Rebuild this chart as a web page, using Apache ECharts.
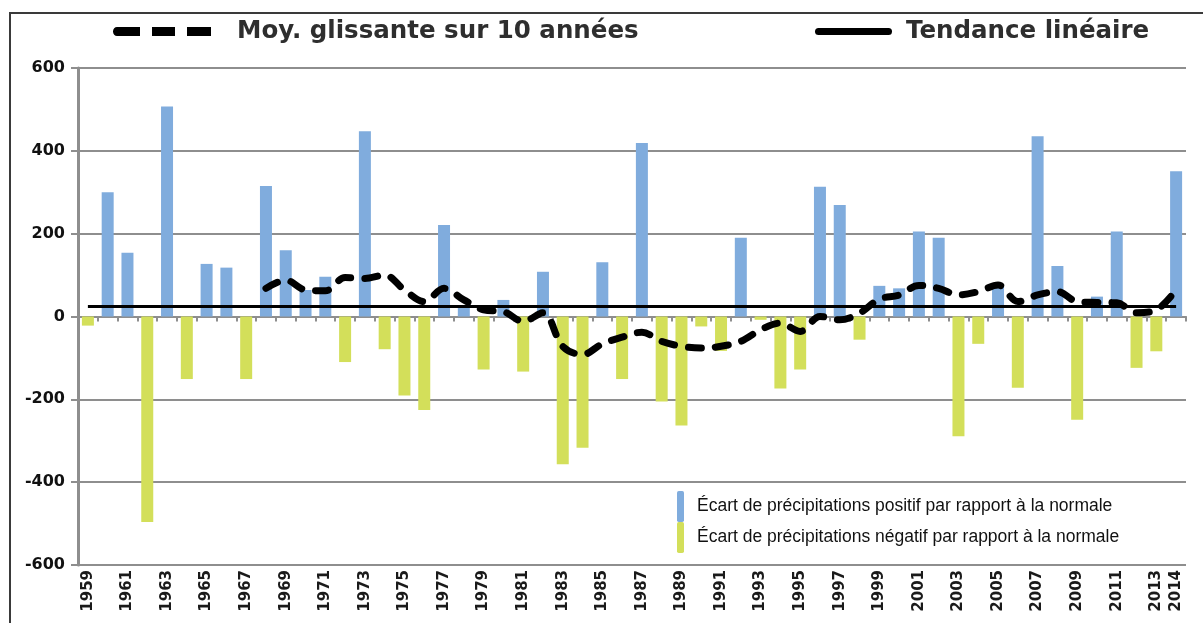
<!DOCTYPE html>
<html>
<head>
<meta charset="utf-8">
<script src="https://cdn.jsdelivr.net/npm/echarts@6/dist/echarts.min.js"></script>
<style>
  html, body { margin: 0; padding: 0; background: #ffffff; }
  #chart { width: 1203px; height: 623px; }
</style>
</head>
<body>
<div id="chart"></div>
<script>
// Years of the series
var years = ['1959','1960','1961','1962','1963','1964','1965','1966','1967','1968',
  '1969','1970','1971','1972','1973','1974','1975','1976','1977','1978',
  '1979','1980','1981','1982','1983','1984','1985','1986','1987','1988',
  '1989','1990','1991','1992','1993','1994','1995','1996','1997','1998',
  '1999','2000','2001','2002','2003','2004','2005','2006','2007','2008',
  '2009','2010','2011','2012','2013','2014'];

// Annual precipitation departure from the normal (mm)
var ecart = [-22, 300, 154, -496, 507, -151, 127, 118, -151, 315,
  160, 64, 96, -110, 447, -79, -191, -226, 221, 25,
  -128, 40, -133, 108, -357, -317, 131, -151, 419, -205,
  -263, -24, -83, 190, -8, -174, -128, 313, 269, -56,
  74, 68, 205, 190, -289, -66, 75, -172, 435, 122,
  -249, 48, 205, -124, -84, 351];

// 10-year moving average (first value in 1968)
var moyGlissante = [null, null, null, null, null, null, null, null, null, 68,
  88, 64, 62, 94, 92, 100, 64, 36, 68, 40,
  16, 12, -12, 9, -72, -92, -66, -50, -38, -60,
  -72, -76, -72, -60, -32, -16, -36, 0, -8, 8,
  42, 52, 75, 68, 52, 60, 76, 36, 52, 60,
  36, 34, 33, 9, 16, 64];

// Linear trend, end points
var tendanceDebut = 24;
var tendanceFin = 24;

// Y axis ticks
var yMin = -600, yMax = 600, yStep = 200;

var nomPositif = 'Écart de précipitations positif par rapport à la normale';
var nomNegatif = 'Écart de précipitations négatif par rapport à la normale';
var nomMoy = 'Moy. glissante sur 10 années';
var nomTend = 'Tendance linéaire';

var positifs = ecart.map(function (v) { return v > 0 ? v : '-'; });
var negatifs = ecart.map(function (v) { return v < 0 ? v : '-'; });
var tendance = years.map(function (y, i) {
  if (i === 0) return tendanceDebut;
  if (i === years.length - 1) return tendanceFin;
  return null;
});

// Legend keys: three thick dashes, and one thick rounded bar
var iconTirets = 'path://M4,0h23v9h-23a4,4.5 0 0 1 0,-9z M39,0h23v9h-23z M74,0h24v9h-24z';
var iconTrait = 'path://M3.5,0h70a3.5,3.5 0 0 1 0,7h-70a3.5,3.5 0 0 1 0,-7z';

var chart = echarts.init(document.getElementById('chart'), null, { renderer: 'canvas' });

var axisFont = 'DejaVu Sans';
var gridGray = '#8e8e8e';

chart.setOption({
  animation: false,
  backgroundColor: '#ffffff',
  graphic: [{
    type: 'polyline',
    shape: { points: [[10, 640], [10, 13], [1210, 13]] },
    style: { stroke: '#3a3a3a', lineWidth: 2, fill: null },
    silent: true
  }],
  legend: [{
    data: [{ name: nomMoy, icon: iconTirets }],
    left: 113, top: 19, padding: 0,
    itemWidth: 98, itemHeight: 9,
    itemStyle: { color: '#000000' },
    textStyle: { fontFamily: 'DejaVu Sans', fontWeight: 'bold', fontSize: 24.5, color: '#2e2e2e', padding: [0, 0, 0, 21] }
  }, {
    data: [{ name: nomTend, icon: iconTrait }],
    left: 815, top: 19, padding: 0,
    itemWidth: 77, itemHeight: 7,
    itemStyle: { color: '#000000' },
    textStyle: { fontFamily: 'DejaVu Sans', fontWeight: 'bold', fontSize: 24.5, color: '#2e2e2e', padding: [0, 0, 0, 9] }
  }, {
    data: [nomPositif, nomNegatif],
    orient: 'vertical',
    left: 677, top: 491, padding: 0,
    itemWidth: 7, itemHeight: 31, itemGap: 0,
    textStyle: { fontFamily: 'Liberation Sans', fontSize: 17.5, color: '#111111', padding: [0, 0, 0, 8] }
  }],
  grid: { left: 78, right: 17, top: 68, bottom: 58, containLabel: false },
  xAxis: [{
    type: 'category',
    data: years,
    position: 'bottom',
    axisLine: { show: false, onZero: false },
    axisTick: { show: false },
    splitLine: { show: false },
    axisLabel: {
      rotate: 90,
      margin: 5,
      interval: function (i) { return i % 2 === 0 || i === years.length - 1; },
      fontFamily: axisFont, fontWeight: 'bold', fontSize: 15, color: '#1a1a1a'
    }
  }, {
    type: 'category',
    data: years,
    position: 'bottom',
    axisLine: { show: true, onZero: true, lineStyle: { color: gridGray, width: 2 } },
    axisTick: { show: true, interval: 0, length: 5, lineStyle: { color: gridGray, width: 2 } },
    axisLabel: { show: false },
    splitLine: { show: false }
  }],
  yAxis: {
    type: 'value',
    min: yMin, max: yMax, interval: yStep,
    axisLine: { show: true, lineStyle: { color: gridGray, width: 3 } },
    axisTick: { show: true, length: 7, lineStyle: { color: gridGray, width: 2 } },
    splitLine: { show: true, lineStyle: { color: gridGray, width: 2 } },
    axisLabel: { margin: 13, fontFamily: axisFont, fontWeight: 'bold', fontSize: 16, color: '#111111' }
  },
  series: [{
    name: nomPositif,
    type: 'bar',
    xAxisIndex: 0,
    data: positifs,
    barWidth: 12,
    barGap: '-100%',
    itemStyle: { color: '#80acdd' },
    z: 2
  }, {
    name: nomNegatif,
    type: 'bar',
    xAxisIndex: 0,
    data: negatifs,
    barWidth: 12,
    barGap: '-100%',
    itemStyle: { color: '#d3df5a' },
    z: 2
  }, {
    name: nomTend,
    type: 'line',
    xAxisIndex: 0,
    data: tendance,
    connectNulls: true,
    symbol: 'none',
    lineStyle: { color: '#000000', width: 3 },
    itemStyle: { color: '#000000' },
    z: 4
  }, {
    name: nomMoy,
    type: 'line',
    xAxisIndex: 0,
    data: moyGlissante,
    smooth: 0.35,
    symbol: 'none',
    lineStyle: { color: '#000000', width: 7, type: [13, 14], cap: 'round' },
    itemStyle: { color: '#000000' },
    z: 5
  }]
});
</script>
</body>
</html>
